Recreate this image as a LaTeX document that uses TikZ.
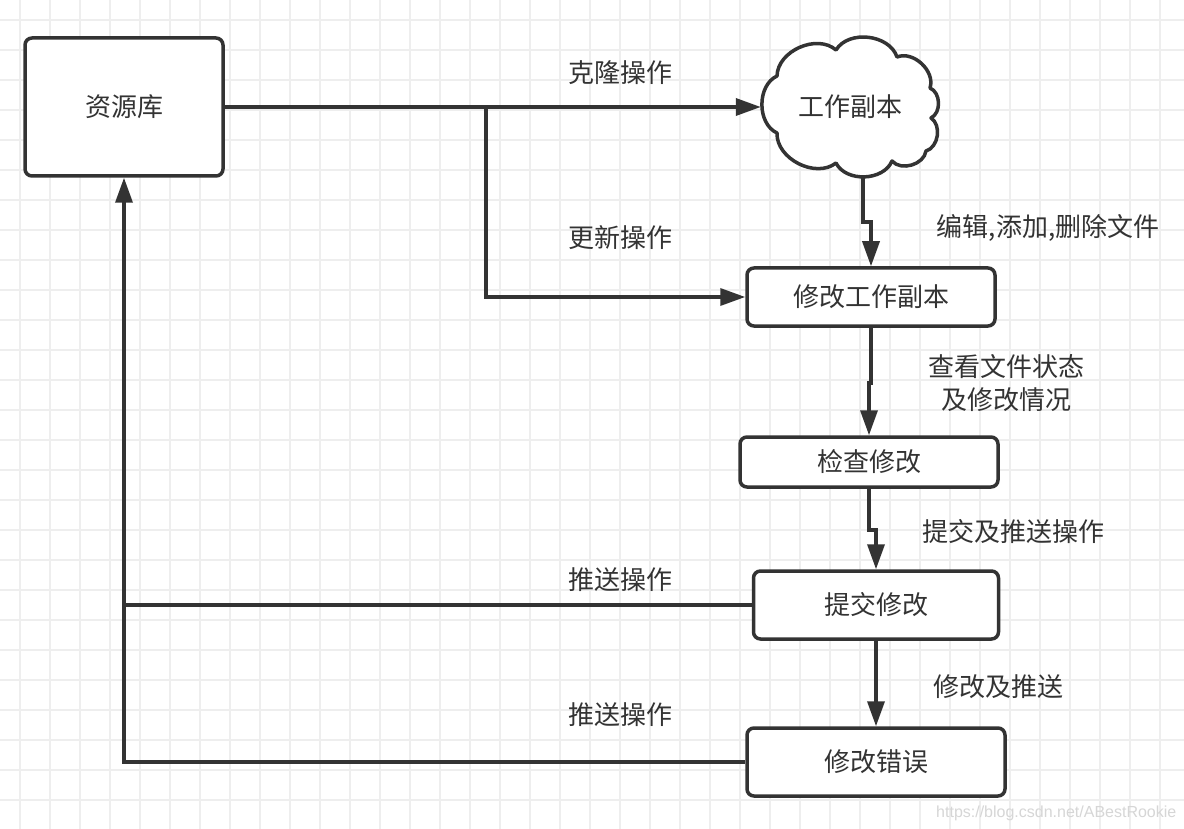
\documentclass[tikz,border=0pt]{standalone}
\usepackage{fontspec}
\setmainfont{Noto Sans CJK SC}
\newfontfamily\wmfont{Liberation Sans}
\usetikzlibrary{arrows.meta,backgrounds,calc}
\definecolor{ink}{HTML}{333333}
\definecolor{gridc}{HTML}{EEEEEE}
\definecolor{wmc}{HTML}{D6D6D6}
\begin{document}
\begin{tikzpicture}[x=1pt,y=-1pt,
  box/.style={draw=ink, line width=3.5pt, rounded corners=7pt, fill=white, inner sep=0pt,
              font=\fontsize{26}{31}\selectfont, text=ink},
  cloudline/.style={draw=ink, line width=3.5pt, fill=white, line join=round},
  conn/.style={draw=ink, line width=3.5pt},
  arr/.style={conn, -{Triangle[length=25pt,width=17pt]}},
  lbl/.style={font=\fontsize{26}{33}\selectfont, text=ink, inner sep=0pt, align=center}]
\useasboundingbox (0,0) rectangle (1184,829);
\begin{scope}[on background layer]
\fill[white] (0,0) rectangle (1184,829);
\foreach \x in {20,50,...,1180} \draw[gridc, line width=2pt] (\x,0) -- (\x,829);
\foreach \y in {20,50,...,820} \draw[gridc, line width=2pt] (0,\y) -- (1184,\y);
\end{scope}

% cloud outline
\path[cloudline] (777,76) to[bend left=65] (836,50) to[bend left=65] (897,57)
  to[bend left=65] (930,88) to[bend left=65] (931,118) to[bend left=65] (926,151)
  to[bend left=65] (892,161) to[bend left=65] (836,163) to[bend left=65] (777,133)
  to[bend left=65] (777,76) -- cycle;

% nodes
\node[box, minimum width=198pt, minimum height=138pt] (repo) at (124,107) {资源库};
\node[inner sep=0pt, minimum width=178pt, minimum height=136pt,
      font=\fontsize{26}{31}\selectfont, text=ink] (cloud) at (850,107) {工作副本};
\node[box, minimum width=248pt, minimum height=58pt] (mod) at (871,297) {修改工作副本};
\node[box, minimum width=258pt, minimum height=50pt] (chk) at (869,462) {检查修改};
\node[box, minimum width=245pt, minimum height=68pt] (commit) at (876,605) {提交修改};
\node[box, minimum width=258pt, minimum height=68pt] (err) at (876,762) {修改错误};

% labels
\node[lbl] (l1) at (620,73) {克隆操作};
\node[lbl] (l2) at (620,238) {更新操作};
\node[lbl] (l3) at (1048,228) {编辑,添加,删除文件};
\node[lbl] (l4) at (1006,383) {查看文件状态\\及修改情况};
\node[lbl] (l5) at (1013,532) {提交及推送操作};
\node[lbl] (l6) at (620,580) {推送操作};
\node[lbl] (l7) at (998,687) {修改及推送};
\node[lbl] (l8) at (620,715) {推送操作};
\node[anchor=base west, font=\wmfont\fontsize{16}{19}\selectfont, text=wmc, inner sep=0pt] (wm) at (936,817) {https://blog.csdn.net/ABestRookie};

% connectors
\coordinate (br) at (486,107);
\coordinate (j1) at (863,222);
\coordinate (j2) at (871,383);
\coordinate (j3) at (869,530);
\begin{scope}[on background layer]
\draw[arr] (repo.east) -- (cloud.west);
\draw[arr] (br) |- (mod.west);
\draw[arr] (j1 |- cloud.center) -- (j1) -| (mod.north);
\draw[arr] (mod.south) -- (j2) -| (chk.north);
\draw[arr] (chk.south) -- (j3) -| (commit.north);
\draw[arr] (commit.south) -- (err.north);
\draw[conn] (commit.west) -- (commit.west -| repo.south);
\draw[arr] (err.west) -| (repo.south);
\end{scope}
\end{tikzpicture}
\end{document}
